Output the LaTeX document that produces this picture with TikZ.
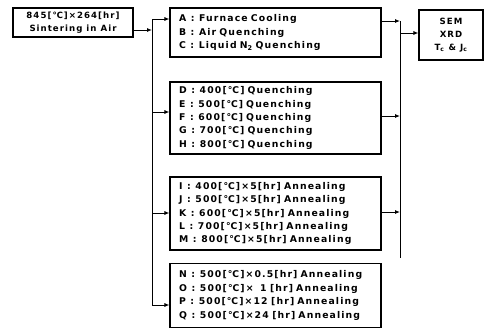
\documentclass[tikz,border=0pt]{standalone}
\usepackage{fontspec}
\setmainfont[LetterSpace=12]{DejaVu Sans}
\usetikzlibrary{arrows.meta,positioning}

\newcommand\sep{\enspace:\enspace}

\begin{document}
\begin{tikzpicture}[x=1pt,y=-1pt,
    every node/.style={font=\bfseries\fontsize{9.3}{13.4}\selectfont},
    sintbox/.style={rectangle,draw,line width=1.1pt,minimum width=120pt,
                    minimum height=29pt,align=center,inner sep=0pt,
                    font=\bfseries\fontsize{8.6}{12.6}\selectfont},
    condbox/.style={rectangle,draw,line width=1.1pt,text width=193pt,
                    inner xsep=9pt,inner ysep=0pt,align=left},
    evalbox/.style={rectangle,draw,line width=1.1pt,minimum width=64pt,
                    minimum height=50pt,align=center,inner sep=0pt,
                    font=\bfseries\fontsize{8.6}{13}\selectfont},
    lin/.style={line width=0.9pt},
    arr/.style={-{Latex[length=5pt,width=4pt]},line width=0.9pt},
  ]
  \useasboundingbox (0,0) rectangle (494,333);

  % Left: sintering condition
  \node[sintbox] (sint) at (73,22.5) {845[℃]×264[hr]\\Sintering in Air};

  % Middle: the four groups of treatment
  \node[condbox,minimum height=49pt] (boxA) at (275.5,32.5)
    {A\sep Furnace Cooling\\
     B\sep Air Quenching\\
     C\sep Liquid N\textsubscript{2} Quenching};
  \node[condbox,minimum height=72pt] (boxB) at (275.5,118)
    {D\sep 400[℃] Quenching\\
     E\sep 500[℃] Quenching\\
     F\sep 600[℃] Quenching\\
     G\sep 700[℃] Quenching\\
     H\sep 800[℃] Quenching};
  \node[condbox,minimum height=73pt] (boxC) at (275.5,213.5)
    {I\sep 400[℃]×5[hr] Annealing\\
     J\sep 500[℃]×5[hr] Annealing\\
     K\sep 600[℃]×5[hr] Annealing\\
     L\sep 700[℃]×5[hr] Annealing\\
     M\sep 800[℃]×5[hr] Annealing};
  \node[condbox,minimum height=64pt] (boxD) at (275.5,295.5)
    {N\sep 500[℃]×0.5[hr] Annealing\\
     O\sep 500[℃]×\phantom{0}1\phantom{.}[hr] Annealing\\
     P\sep 500[℃]×12\phantom{.}[hr] Annealing\\
     Q\sep 500[℃]×24\phantom{.}[hr] Annealing};

  % Right: measurements
  \node[evalbox] (eval) at (451,35) {SEM\\XRD\\T\textsubscript{c} \& J\textsubscript{c}};

  % trunks and tap points
  \coordinate (lt) at (152,0);
  \coordinate (rt) at (400,0);
  \coordinate (rbot) at (400,258);
  \coordinate (outS) at ([yshift=-7.5pt]sint.east);
  \coordinate (inA) at ([yshift=13.5pt]boxA.west);
  \coordinate (inB) at ([yshift=6pt]boxB.west);
  \coordinate (inC) at ([yshift=0.5pt]boxC.west);
  \coordinate (inD) at ([yshift=-9.5pt]boxD.west);
  \coordinate (outA) at ([yshift=11.5pt]boxA.east);
  \coordinate (outB) at ([yshift=2pt]boxB.east);
  \coordinate (outC) at ([yshift=1.5pt]boxC.east);
  \coordinate (inE) at ([yshift=2pt]eval.west);

  % left side
  \draw[arr] (outS) -- (outS -| lt);
  \draw[lin] (lt |- inA) -- (lt |- inD);
  \foreach \b in {inA,inB,inC,inD}
    \draw[arr] (lt |- \b) -- (\b);

  % right side
  \draw[lin] (rt |- outA) -- (rbot);
  \foreach \b in {outA,outB,outC}
    \draw[arr] (\b) -- (rt |- \b);
  \draw[arr] (rt |- inE) -- (inE);
\end{tikzpicture}
\end{document}
